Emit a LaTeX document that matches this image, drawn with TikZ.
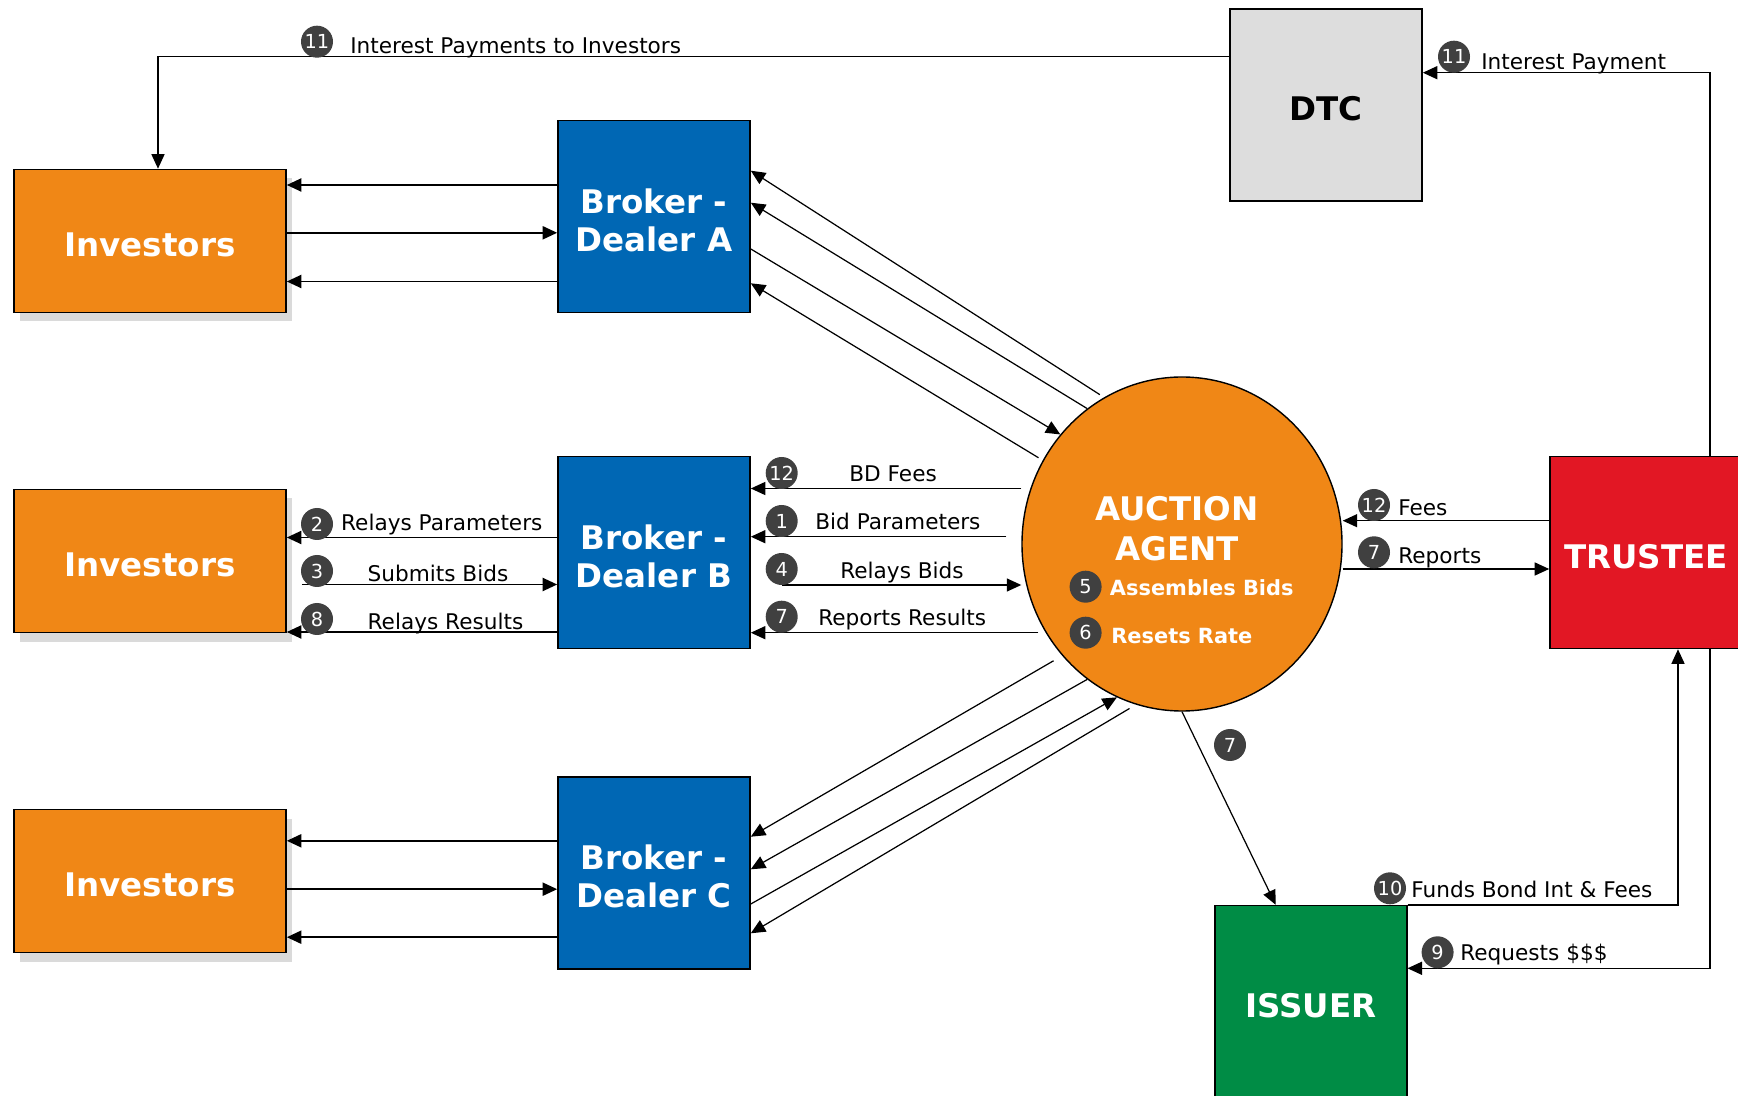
\documentclass[tikz,border=0pt]{standalone}
\usepackage{fontspec}
\setmainfont{DejaVu Sans}
\usepackage{tikz}
\usetikzlibrary{arrows.meta,shapes.geometric,shadows,positioning,calc}
\definecolor{invorange}{RGB}{240,135,22}
\definecolor{dealerblue}{RGB}{0,103,180}
\definecolor{dtcgray}{RGB}{221,221,221}
\definecolor{trusteered}{RGB}{226,23,36}
\definecolor{issuergreen}{RGB}{0,140,69}
\definecolor{numgray}{RGB}{64,64,64}
\definecolor{shadowgray}{RGB}{218,218,218}

\begin{document}
\begin{tikzpicture}[
    x=0.2mm, y=-0.2mm,
    >={Triangle[length=2.9mm, width=2.6mm]},
    party/.style={rectangle, draw=black, line width=0.9pt, minimum width=38.4mm,
                  minimum height=38.4mm, inner sep=0pt, align=center, text height=18pt,
                  font=\fontsize{18.5}{21.5}\selectfont\bfseries},
    investors/.style={party, fill=invorange, text=white, minimum width=54.4mm,
                  minimum height=28.6mm,
                  drop shadow={shadow xshift=1.2mm, shadow yshift=-1.8mm,
                               fill=shadowgray, opacity=1}},
    dealer/.style={party, fill=dealerblue, text=white, text height=39.5pt, text depth=0pt},
    agentbody/.style={ellipse, draw=black, line width=0.8pt, fill=invorange,
                  minimum width=64mm, minimum height=66.8mm, inner sep=0pt},
    num/.style={circle, fill=numgray, text=white, inner sep=0pt, minimum size=6.4mm,
                font=\fontsize{11}{11}\selectfont},
    lbl/.style={anchor=base west, inner sep=0pt, font=\fontsize{12.3}{14}\selectfont},
    inlbl/.style={lbl, text=white, font=\fontsize{11.9}{14}\selectfont\bfseries},
    flow/.style={->, line width=0.8pt},
    wide/.style={line width=1.1pt},
    diag/.style={line width=0.7pt}
]
    \useasboundingbox (0,0) rectangle (1738,1096);

    % Parties
    \node[investors] (invA) at (150,241) {Investors};
    \node[investors] (invB) at (150,561) {Investors};
    \node[investors] (invC) at (150,881) {Investors};
    \node[dealer] (bdA) at (654,216.7) {Broker -\\Dealer A};
    \node[dealer] (bdB) at (654,552.5) {Broker -\\Dealer B};
    \node[dealer] (bdC) at (654,872.9) {Broker -\\Dealer C};
    \node[party, fill=dtcgray] (dtc) at (1326,104.8) {DTC};
    \node[party, fill=trusteered, text=white] (trustee) at (1646,552.5) {TRUSTEE};
    \node[party, fill=issuergreen, text=white] (issuer) at (1310.7,1001.6) {ISSUER};
    \node[agentbody] (agent) at (1182,544) {};
    \node[text=white, align=center, inner sep=0pt,
          font=\fontsize{18.5}{22.7}\selectfont\bfseries] (agentname) at (1177,529) {AUCTION\\AGENT};
    \node[num] (n5) at (1085.6,586.7) {5};
    \node[inlbl] (assemble) at (1109.6,596) {Assembles Bids};
    \node[num] (n6) at (1085.6,632.7) {6};
    \node[inlbl] (reset) at (1111,644) {Resets Rate};

    % Investors <-> dealers A and C
    \foreach \r/\ya/\yb/\yc in {A/185/232.8/281.5, C/840.8/889.2/937.2} {
        \draw[flow, wide] (bd\r.west |- 0,\ya) -- (inv\r.east |- 0,\ya);
        \draw[flow, wide] (inv\r.east |- 0,\yb) -- (bd\r.west |- 0,\yb);
        \draw[flow, wide] (bd\r.west |- 0,\yc) -- (inv\r.east |- 0,\yc);
    }

    % Investors <-> dealer B
    \draw[flow, wide] (bdB.west |- 0,537.5) -- (invB.east |- 0,537.5);
    \draw[flow, wide, shorten <=3mm] (invB.east |- 0,584.5) -- (bdB.west |- 0,584.5);
    \draw[flow, wide] (bdB.west |- 0,632) -- (invB.east |- 0,632);
    \node[num] (n2) at (317,524) {2};
    \node[lbl] (relpar) at (340.8,531) {Relays Parameters};
    \node[num] (n3) at (317,571) {3};
    \node[lbl] (subbids) at (367.3,581.7) {Submits Bids};
    \node[num] (n8) at (317,619) {8};
    \node[lbl] (relres) at (367.3,629.3) {Relays Results};

    % Agent <-> dealer B
    \draw[flow] (agent.west |- 0,488.5) -- (bdB.east |- 0,488.5);
    \draw[flow, shorten <=3mm] (agent.west |- 0,536.7) -- (bdB.east |- 0,536.7);
    \draw[flow, shorten <=6.3mm] (bdB.east |- 0,585) -- (agent.west |- 0,585);
    \draw[flow, shorten <=-3.4mm] (agent.west |- 0,632.7) -- (bdB.east |- 0,632.7);
    \node[num] (n12a) at (781.7,473) {12};
    \node[lbl] (bdfees) at (849,481.7) {BD Fees};
    \node[num] (n1) at (781.7,521) {1};
    \node[lbl] (bidpar) at (815,530) {Bid Parameters};
    \node[num] (n4) at (781.7,569) {4};
    \node[lbl] (relbids) at (840,578.3) {Relays Bids};
    \node[num] (n7a) at (781.7,616.7) {7};
    \node[lbl] (repres) at (818,625.7) {Reports Results};

    % Agent <-> dealers A and C
    \draw[flow, diag, shorten <=1mm] (agent.118) -- (bdA.east |- 0,170.7);
    \draw[flow, diag] (agent.125) -- (bdA.east |- 0,202.7);
    \draw[flow, diag] (bdA.east |- 0,249) -- (agent.138);
    \draw[flow, diag, shorten <=1mm] (agent.149) -- (bdA.east |- 0,283.3);
    \draw[flow, diag, shorten <=2mm] (agent.223) -- (bdC.east |- 0,836.7);
    \draw[flow, diag] (agent.235) -- (bdC.east |- 0,869.3);
    \draw[flow, diag] (bdC.east |- 0,904) -- (agent.247);
    \draw[flow, diag, shorten <=1.5mm] (agent.254) -- (bdC.east |- 0,933.3);

    % Agent <-> trustee
    \draw[flow] (trustee.west |- 0,520.7) -- (agent.east |- 0,520.7);
    \draw[flow] (agent.east |- 0,569) -- (trustee.west |- 0,569);
    \node[num] (n12b) at (1374,505) {12};
    \node[lbl] (fees) at (1398,516) {Fees};
    \node[num] (n7b) at (1374,552.3) {7};
    \node[lbl] (reports) at (1398,564) {Reports};

    % Agent -> issuer
    \draw[flow, diag] (agent.south) -- ([xshift=-7mm]issuer.north);
    \node[num] (n7c) at (1230,745) {7};

    % Issuer <-> trustee
    \draw[flow] (issuer.north east) -| ([xshift=6.4mm]trustee.south);
    \draw[flow] ([xshift=12.8mm]trustee.south) |- (issuer.east |- 0,968.3);
    \node[num] (n10) at (1390,888.3) {10};
    \node[lbl] (funds) at (1411,897.7) {Funds Bond Int \& Fees};
    \node[num] (n9) at (1437.6,952.3) {9};
    \node[lbl] (requests) at (1460,960) {Requests \$\$\$};

    % Interest payments
    \draw[flow] ([xshift=12.8mm]trustee.north) |- (dtc.east |- 0,72.7);
    \node[num] (n11b) at (1454,56.7) {11};
    \node[lbl] (intpay) at (1481,70) {Interest Payment};
    \draw[flow] (dtc.west |- 0,56.7) -| ([xshift=1.6mm]invA.north);
    \node[num] (n11a) at (317,41.7) {11};
    \node[lbl] (intinv) at (350,53.3) {Interest Payments to Investors};
\end{tikzpicture}
\end{document}
